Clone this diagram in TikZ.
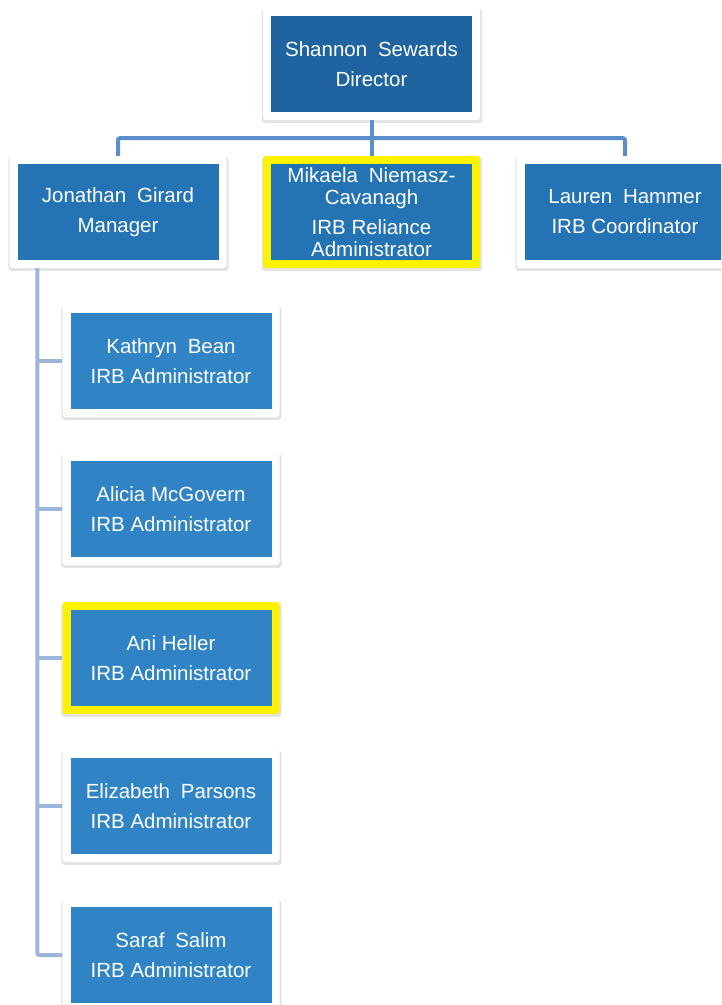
\documentclass[tikz,border=0pt]{standalone}
\usepackage{fontspec}
\setmainfont{Liberation Sans}
\usetikzlibrary{calc,shadows}
\definecolor{dirblue}{HTML}{1F64A0}
\definecolor{midblue}{HTML}{2473B5}
\definecolor{staffblue}{HTML}{3084C6}
\definecolor{toplink}{HTML}{5B8FCB}
\definecolor{sublink}{HTML}{9BB5DB}
\newcommand{\gap}{\hspace{0.25em}}

\begin{document}
\begin{tikzpicture}[x=1pt,y=1pt,
    card/.style={fill=white, rounded corners=3pt, minimum width=217pt, minimum height=112pt,
      inner sep=0pt, align=center, text=white, font=\fontsize{20.5}{22}\selectfont,
      drop shadow={shadow xshift=0.5pt, shadow yshift=-2pt, shadow scale=1.015, opacity=.22},
      path picture={\fill[#1, sharp corners] ($(path picture bounding box.south west)+(8,8)$) rectangle ($(path picture bounding box.north east)+(-8,-8)$);}},
    marked/.style={fill=yellow},
    link/.style={line width=4pt, draw=#1}]
    \clip (0,0) rectangle (721,-1005);

    \draw node at (371.5,-64)[name=dir, card=dirblue]{Shannon\gap{} Sewards\\[8pt]Director};
    \draw node at (118,-212)[name=jon, card=midblue]{Jonathan\gap{} Girard\\[8pt]Manager};
    \draw node at (371.5,-212)[name=mik, card=midblue, marked]{Mikaela\gap{} Niemasz-\\Cavanagh\\[8pt]IRB Reliance\\Administrator};
    \draw node at (625,-212)[name=lau, card=midblue]{Lauren\gap{} Hammer\\[8pt]IRB Coordinator};

    \draw node at (171,-361)[name=kat, card=staffblue]{Kathryn\gap{} Bean\\[8pt]IRB Administrator};
    \draw node at (171,-509)[name=ali, card=staffblue]{Alicia McGovern\\[8pt]IRB Administrator};
    \draw node at (171,-658)[name=ani, card=staffblue, marked]{Ani Heller\\[8pt]IRB Administrator};
    \draw node at (171,-806)[name=eli, card=staffblue]{Elizabeth\gap{} Parsons\\[8pt]IRB Administrator};
    \draw node at (171,-955)[name=sar, card=staffblue]{Saraf\gap{} Salim\\[8pt]IRB Administrator};

    % director to the three below
    \coordinate (bus) at ($(dir.south)+(0,-18)$);
    \draw[link=toplink] (dir.south) -- (mik.north);
    \draw[link=toplink, rounded corners=2pt] (jon.north) |- (bus) -| (lau.north);

    % manager to the administrators
    \coordinate (trunk) at ($(jon.south west)+(28,0)$);
    \draw[link=sublink, rounded corners=2pt] (trunk) |- (sar.west);
    \draw[link=sublink] (trunk |- kat.west) -- (kat.west);
    \draw[link=sublink] (trunk |- ali.west) -- (ali.west);
    \draw[link=sublink] (trunk |- ani.west) -- (ani.west);
    \draw[link=sublink] (trunk |- eli.west) -- (eli.west);
\end{tikzpicture}
\end{document}
